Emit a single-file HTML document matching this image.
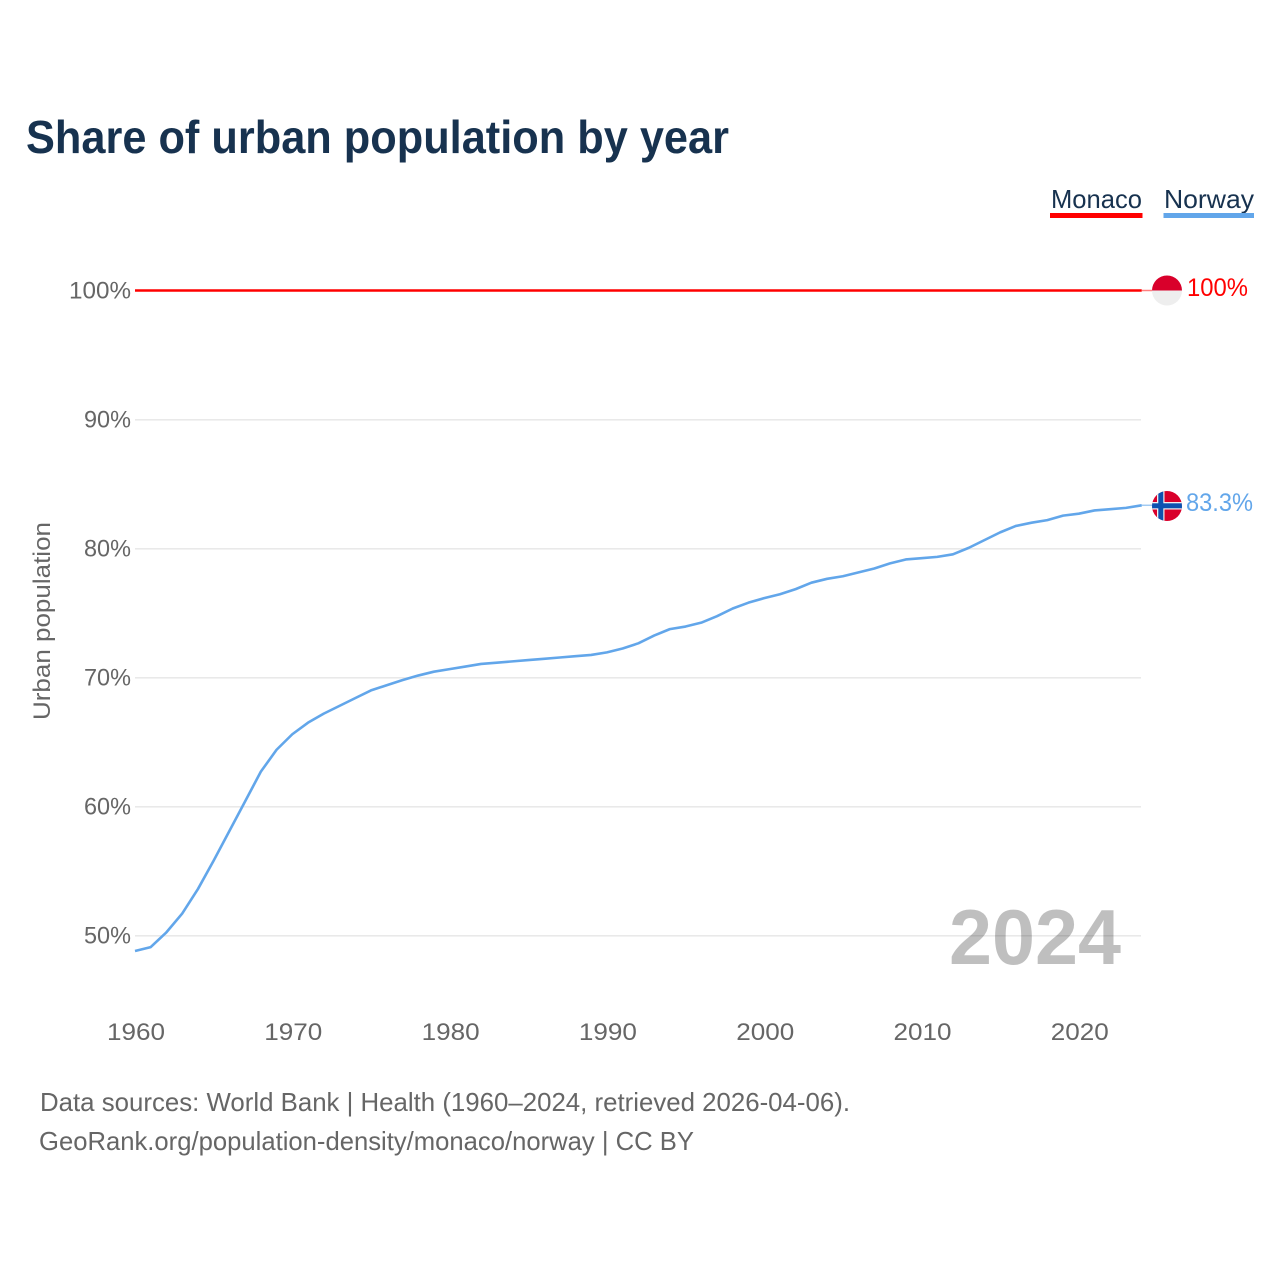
<!DOCTYPE html>
<html lang="en">
<head>
<meta charset="utf-8">
<title>Share of urban population by year</title>
<style>
html,body{margin:0;padding:0;background:#fff;}
svg{display:block;font-family:"Liberation Sans",sans-serif;}
</style>
</head>
<body>
<svg id="chart" xmlns="http://www.w3.org/2000/svg" width="1280" height="1280" viewBox="0 0 1280 1280">
  <rect x="0" y="0" width="1280" height="1280" fill="#ffffff"/>
  <text x="26" y="153" font-size="46" font-weight="700" fill="#17324f" textLength="703" lengthAdjust="spacingAndGlyphs">Share of urban population by year</text>

  <g id="grid"></g>
  <g id="y-ticks"></g>
  <g id="x-ticks"></g>
  <text transform="translate(50,720) rotate(-90)" font-size="24" fill="#666666" textLength="198" lengthAdjust="spacingAndGlyphs">Urban population</text>

  <text x="949" y="964" font-size="78" font-weight="700" fill="#000000" fill-opacity="0.25" textLength="172" lengthAdjust="spacingAndGlyphs">2024</text>

  <g id="series"></g>

  <g>
    <text x="1051" y="208" font-size="26" fill="#17324f" textLength="91" lengthAdjust="spacingAndGlyphs">Monaco</text>
    <rect x="1050" y="213" width="92.5" height="5" fill="#ff0000"/>
  </g>
  <g>
    <text x="1164" y="208" font-size="26" fill="#17324f" textLength="90" lengthAdjust="spacingAndGlyphs">Norway</text>
    <rect x="1163.5" y="213" width="90.5" height="5" fill="#62a6ea"/>
  </g>

  <defs>
    <clipPath id="flag-clip-mc"><circle cx="1167" cy="290.5" r="15"/></clipPath>
    <clipPath id="flag-clip-no"><circle cx="1167" cy="506" r="15"/></clipPath>
  </defs>
  <g clip-path="url(#flag-clip-mc)">
    <rect x="1152" y="275" width="30" height="15.5" fill="#d9002b"/>
    <rect x="1152" y="290.5" width="30" height="15.5" fill="#eeeeee"/>
  </g>
  <g clip-path="url(#flag-clip-no)">
    <rect x="1152" y="491" width="30" height="30" fill="#d9002b"/>
    <rect x="1157" y="491" width="7.5" height="30" fill="#f0f0f0"/>
    <rect x="1152" y="502" width="30" height="7.5" fill="#f0f0f0"/>
    <rect x="1158.3" y="491" width="5" height="30" fill="#0d52b0"/>
    <rect x="1152" y="503.3" width="30" height="5" fill="#0d52b0"/>
  </g>
  <text x="1187" y="296" font-size="25" fill="#ff0000" textLength="61" lengthAdjust="spacingAndGlyphs">100%</text>
  <text x="1186" y="511" font-size="25" fill="#62a6ea" textLength="67" lengthAdjust="spacingAndGlyphs">83.3%</text>

  <text x="40" y="1111" font-size="26" fill="#666666" textLength="810" lengthAdjust="spacingAndGlyphs">Data sources: World Bank | Health (1960–2024, retrieved 2026-04-06).</text>
  <text x="39" y="1150" font-size="26" fill="#666666" textLength="655" lengthAdjust="spacingAndGlyphs">GeoRank.org/population-density/monaco/norway | CC BY</text>
</svg>
<script>
const years = [1960,1961,1962,1963,1964,1965,1966,1967,1968,1969,1970,1971,1972,1973,1974,1975,1976,1977,1978,1979,1980,1981,1982,1983,1984,1985,1986,1987,1988,1989,1990,1991,1992,1993,1994,1995,1996,1997,1998,1999,2000,2001,2002,2003,2004,2005,2006,2007,2008,2009,2010,2011,2012,2013,2014,2015,2016,2017,2018,2019,2020,2021,2022,2023,2024];
const norwayValues = [48.8,49.1,50.25,51.7,53.6,55.8,58.1,60.4,62.7,64.4,65.6,66.5,67.2,67.8,68.4,69.0,69.4,69.8,70.15,70.45,70.65,70.85,71.05,71.15,71.25,71.35,71.45,71.55,71.65,71.75,71.95,72.25,72.65,73.25,73.75,73.95,74.25,74.75,75.35,75.8,76.15,76.45,76.85,77.35,77.65,77.85,78.15,78.45,78.85,79.15,79.25,79.35,79.55,80.05,80.65,81.25,81.75,82.0,82.2,82.55,82.7,82.95,83.05,83.15,83.35];
const monacoValues = [100,100,100,100,100,100,100,100,100,100,100,100,100,100,100,100,100,100,100,100,100,100,100,100,100,100,100,100,100,100,100,100,100,100,100,100,100,100,100,100,100,100,100,100,100,100,100,100,100,100,100,100,100,100,100,100,100,100,100,100,100,100,100,100,100];
const yTickValues = [50,60,70,80,90,100];
const yTickLabels = ["50%","60%","70%","80%","90%","100%"];
const xTickValues = [1960,1970,1980,1990,2000,2010,2020];
const xTickLabels = ["1960","1970","1980","1990","2000","2010","2020"];

const NS = 'http://www.w3.org/2000/svg';
const xScale = function (year) { return 135 + (year - 1960) * (1141.7 - 135) / 64; };
const yScale = function (value) { return 935.5 - (value - 50) * 12.9; };

function make(tag, parent) {
  const el = document.createElementNS(NS, tag);
  parent.appendChild(el);
  return el;
}

const gridGroup = document.getElementById('grid');
const yTickGroup = document.getElementById('y-ticks');
const xTickGroup = document.getElementById('x-ticks');
const seriesGroup = document.getElementById('series');

yTickValues.forEach(function (v, i) {
  const line = make('line', gridGroup);
  
  
  line.setAttribute('x1', 135);
  line.setAttribute('x2', 1141);
  line.setAttribute('y1', yScale(v) + 0.3);
  line.setAttribute('y2', yScale(v) + 0.3);
  line.setAttribute('stroke', '#e6e6e6');
  line.setAttribute('stroke-width', 1.4);

  const label = make('text', yTickGroup);
  
  
  const wide = yTickLabels[i].length > 3;
  label.setAttribute('x', wide ? 69 : 84);
  label.setAttribute('y', yScale(v) + 8);
  label.setAttribute('font-size', 24);
  label.setAttribute('fill', '#666666');
  label.setAttribute('textLength', wide ? 62 : 47);
  label.setAttribute('lengthAdjust', 'spacingAndGlyphs');
  label.textContent = yTickLabels[i];
});

xTickValues.forEach(function (v, i) {
  const label = make('text', xTickGroup);
  
  
  label.setAttribute('x', xScale(v) - 28);
  label.setAttribute('y', 1040);
  label.setAttribute('font-size', 24);
  label.setAttribute('fill', '#666666');
  label.setAttribute('textLength', 58);
  label.setAttribute('lengthAdjust', 'spacingAndGlyphs');
  label.textContent = xTickLabels[i];
});

function linePath(values) {
  return values.map(function (v, i) {
    return (i ? 'L' : 'M') + xScale(years[i]).toFixed(2) + ' ' + yScale(v).toFixed(2);
  }).join(' ');
}

const monacoLeader = make('line', seriesGroup);


monacoLeader.setAttribute('x1', 1141.7);
monacoLeader.setAttribute('x2', 1152);
monacoLeader.setAttribute('y1', yScale(monacoValues[monacoValues.length - 1]));
monacoLeader.setAttribute('y2', yScale(monacoValues[monacoValues.length - 1]));
monacoLeader.setAttribute('stroke', '#ff0000');
monacoLeader.setAttribute('stroke-opacity', 0.5);
monacoLeader.setAttribute('stroke-width', 1.5);

const norwayLeader = make('line', seriesGroup);


norwayLeader.setAttribute('x1', 1141.7);
norwayLeader.setAttribute('x2', 1152);
norwayLeader.setAttribute('y1', yScale(norwayValues[norwayValues.length - 1]));
norwayLeader.setAttribute('y2', yScale(norwayValues[norwayValues.length - 1]));
norwayLeader.setAttribute('stroke', '#62a6ea');
norwayLeader.setAttribute('stroke-opacity', 0.6);
norwayLeader.setAttribute('stroke-width', 1.5);

const monacoLine = make('path', seriesGroup);


monacoLine.setAttribute('d', linePath(monacoValues));
monacoLine.setAttribute('fill', 'none');
monacoLine.setAttribute('stroke', '#ff0000');
monacoLine.setAttribute('stroke-width', 2.6);

const norwayLine = make('path', seriesGroup);


norwayLine.setAttribute('d', linePath(norwayValues));
norwayLine.setAttribute('fill', 'none');
norwayLine.setAttribute('stroke', '#62a6ea');
norwayLine.setAttribute('stroke-width', 2.6);
norwayLine.setAttribute('stroke-linejoin', 'round');
</script>
</body>
</html>
